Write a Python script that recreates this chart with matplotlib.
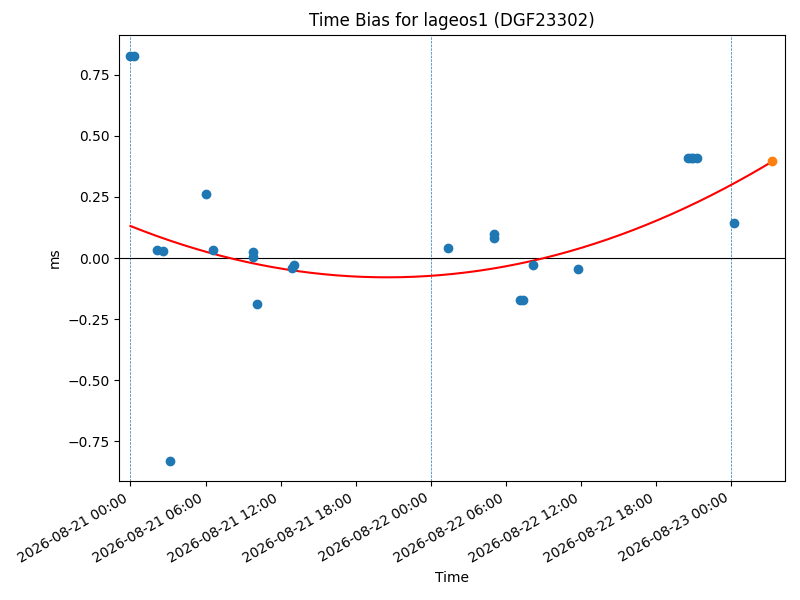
import matplotlib
matplotlib.use("Agg")
import matplotlib.pyplot as plt
import matplotlib.dates as mdates
import numpy as np
import datetime as dt

t0 = dt.datetime(2026, 8, 21)
hours = [0.0, 0.25, 2.16, 2.64, 3.2, 6.0, 6.56, 9.76, 9.76, 10.08, 12.88, 13.1,
         25.36, 29.04, 29.04, 31.1, 31.4, 32.2, 35.8, 44.6, 44.8, 45.0, 45.3, 48.2]
bias = [0.828, 0.828, 0.033, 0.028, -0.832, 0.262, 0.033, 0.025, 0.005, -0.19, -0.042, -0.03,
        0.042, 0.1, 0.08, -0.17, -0.17, -0.03, -0.046, 0.41, 0.41, 0.41, 0.41, 0.143]
pred_hour = [51.3]
pred_bias = [0.397]
fit_coef = [0.0005, -0.0205, 0.131]
day_lines = [0, 24, 48]

to_dt = lambda h: t0 + dt.timedelta(hours=h)
fig = plt.figure(figsize=(8, 6), dpi=100)
ax = fig.add_axes([0.149, 0.198, 0.832, 0.744])
for h in day_lines:
    ax.axvline(to_dt(h), ls='--', lw=0.5, color='tab:blue')
ax.axhline(0, color='black', lw=0.8)
tt = np.linspace(0, pred_hour[0], 200)
ax.plot([to_dt(h) for h in tt], np.polyval(fit_coef, tt), color='red')
ax.scatter([to_dt(h) for h in hours], bias, color='tab:blue', zorder=3)
ax.scatter([to_dt(h) for h in pred_hour], pred_bias, color='tab:orange', zorder=3)
ax.set_xlim(to_dt(-0.9), to_dt(52.3))
ax.set_ylim(-0.914, 0.914)
ax.xaxis.set_major_locator(mdates.HourLocator(byhour=[0, 6, 12, 18]))
ax.xaxis.set_major_formatter(mdates.DateFormatter('%Y-%m-%d %H:%M'))
plt.setp(ax.get_xticklabels(), rotation=30, ha='right')
ax.set_xlabel('Time')
ax.set_ylabel('ms')
ax.set_title('Time Bias for lageos1 (DGF23302)')
fig.savefig('out.png')
